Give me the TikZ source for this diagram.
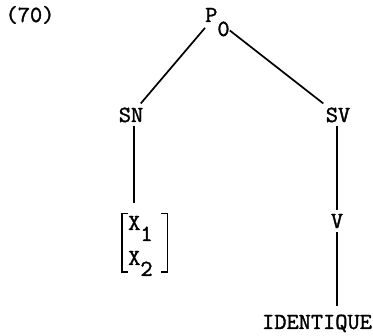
\documentclass[tikz,border=0pt]{standalone}
\usepackage{fontspec}
\setmonofont{Latin Modern Mono}[FakeStretch=1.03, FakeBold=1.6]
\usetikzlibrary{positioning}

\tikzset{
  lbl/.style={font=\ttfamily\fontsize{23}{27}\selectfont, inner sep=4pt},
  xcell/.style={lbl, text width=33pt, align=left, inner xsep=6pt, inner ysep=2pt},
  branch/.style={line width=1.7pt},
  bracket/.style={line width=1.6pt},
}

\newcommand{\lowered}[1]{\raisebox{-14pt}{#1}}
\newcommand{\lowsub}[1]{\raisebox{-11pt}[\height][5pt]{#1}}

\begin{document}
\begin{tikzpicture}[x=1pt,y=-1pt]
  \useasboundingbox (0,0) rectangle (373,336);
  % labels
  \node[lbl, anchor=base] (num) at (30,22) {(70)};
  \node[lbl, anchor=base west, inner sep=0pt] (P0) at (205,22) {P\lowered{0}};
  \node[lbl, anchor=base] (SN) at (131,122) {SN};
  \node[lbl, anchor=base] (SV) at (338,122) {SV};
  \node[xcell, anchor=base west] (X1) at (122,230) {X\lowsub{1}};
  \node[xcell, anchor=base west] (X2) at (122,265) {X\lowsub{2}};
  \node[lbl, anchor=base] (V) at (337,228) {V};
  \node[lbl, anchor=base] (ID) at (317,329) {IDENTIQUE};
  % branches
  \draw[branch] (P0.205) -- (SN);
  \draw[branch] (P0.-34) -- (SV);
  \draw[branch, shorten >=10pt] ([xshift=3pt]SN.south) -- ([xshift=3pt]SN.south |- X1.north);
  \draw[branch] ([xshift=-1pt]SV.south) -- ([xshift=-1pt]SV.south |- V.north);
  \draw[branch, shorten >=4pt] (V.south) -- (V.south |- ID.north);
  % brackets
  \draw[bracket] ([xshift=6pt]X1.north west) -| (X2.south west) -- ++(6pt,0);
  \draw[bracket] ([xshift=-6pt]X1.north east) -| (X2.south east) -- ++(-6pt,0);
\end{tikzpicture}
\end{document}
